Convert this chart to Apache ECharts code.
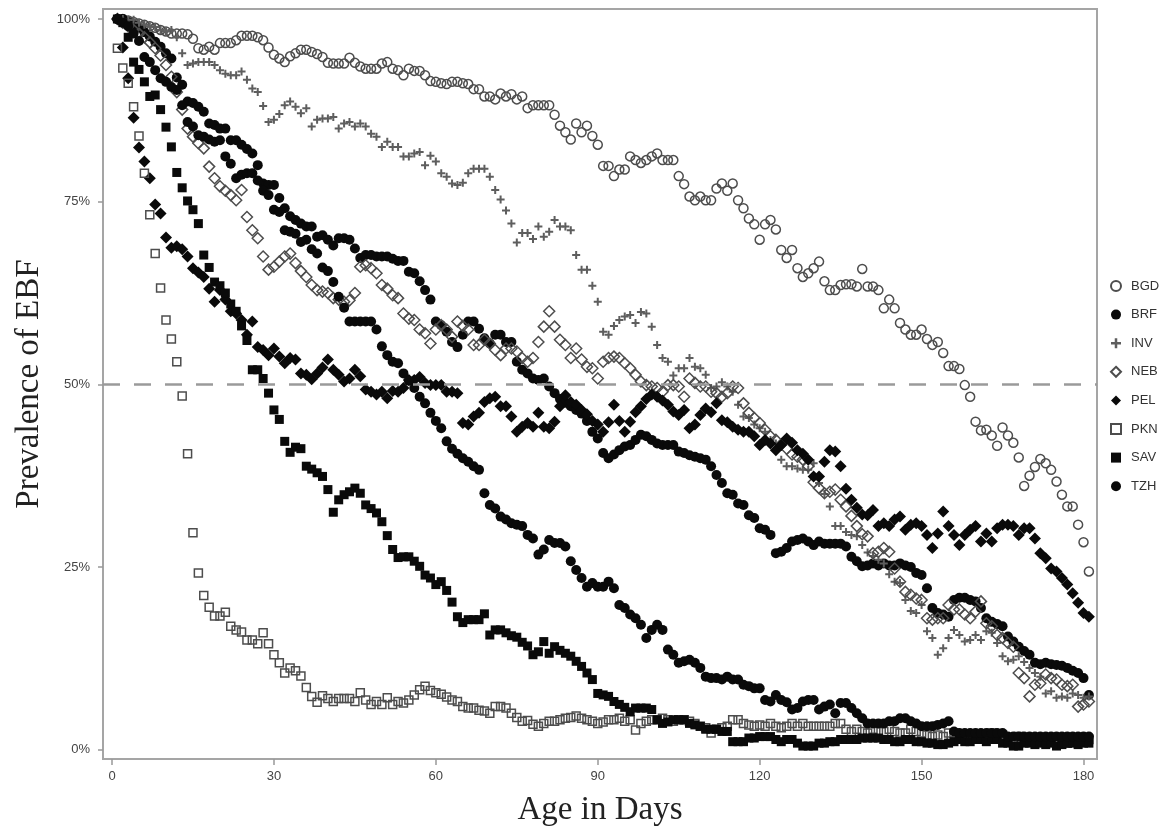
<!DOCTYPE html>
<html>
<head>
<meta charset="utf-8">
<title>Prevalence of EBF</title>
<script src="https://cdn.jsdelivr.net/npm/echarts@6/dist/echarts.min.js"></script>
<style>
html, body { margin: 0; padding: 0; background: #fff; }
#chart { width: 1170px; height: 829px; }
</style>
</head>
<body>
<div id="chart"></div>
<script>
// day of the first point in every series; one value per day after that
var firstDay = 1;
var siteNames = ['BGD', 'BRF', 'INV', 'NEB', 'PEL', 'PKN', 'SAV', 'TZH'];
var xTicks = [0, 30, 60, 90, 120, 150, 180];
var yTicks = [0, 25, 50, 75, 100];
var refLevel = 50;

var bgd = [
  100, 100, 99.8, 99.6, 99.4, 99.2, 99, 98.8, 98.5, 98.3,
  98.0, 98.0, 98.0, 97.9, 97.3, 96.0, 95.8, 96.2, 95.8, 96.7,
  96.7, 96.7, 97.1, 97.7, 97.7, 97.7, 97.5, 97.1, 96.1, 95.1,
  94.6, 94.1, 94.9, 95.3, 95.8, 95.8, 95.5, 95.2, 94.8, 94.0,
  93.9, 93.9, 93.9, 94.7, 94.0, 93.5, 93.2, 93.2, 93.2, 93.9,
  94.1, 93.2, 93.0, 92.3, 93.2, 92.9, 92.9, 92.3, 91.5, 91.4,
  91.2, 91.1, 91.4, 91.4, 91.2, 91.1, 90.4, 90.4, 89.4, 89.4,
  89.0, 89.8, 89.4, 89.7, 89.0, 89.4, 87.8, 88.2, 88.2, 88.2,
  88.2, 86.9, 85.4, 84.5, 83.5, 85.7, 84.5, 85.4, 84.0, 82.8,
  79.9, 79.9, 78.5, 79.4, 79.4, 81.2, 80.7, 80.3, 80.7, 81.2,
  81.6, 80.7, 80.7, 80.7, 78.5, 77.4, 75.7, 75.2, 75.7, 75.2,
  75.2, 76.8, 77.5, 76.5, 77.5, 75.2, 74.1, 72.7, 71.9, 69.8,
  71.9, 72.5, 71.2, 68.4, 67.3, 68.4, 65.9, 64.7, 65.2, 65.9,
  66.8, 64.1, 62.9, 62.9, 63.6, 63.7, 63.7, 63.4, 65.8, 63.4,
  63.4, 62.9, 60.4, 61.6, 60.4, 58.4, 57.5, 56.8, 56.8, 57.5,
  56.2, 55.4, 55.8, 54.3, 52.5, 52.5, 52.1, 49.9, 48.3, 44.9,
  43.7, 43.8, 43.0, 41.6, 44.1, 43.0, 42.0, 40.0, 36.1, 37.5,
  38.7, 39.8, 39.2, 38.3, 36.7, 34.9, 33.3, 33.3, 30.8, 28.4,
  24.4
];

var brf = [
  100, 100, 99.6, 99.2, 98.8, 98.2, 97.6, 96.9, 96.2, 95.3,
  94.6, 92.0, 91.0, 88.7, 88.5, 88.0, 87.3, 85.7, 85.5, 85.0,
  85.0, 83.4, 83.4, 82.8, 82.2, 81.6, 80.0, 77.5, 77.3, 77.3,
  75.5, 74.1, 73.0, 72.5, 72.0, 71.6, 71.6, 70.2, 70.4, 69.8,
  69.0, 70.0, 70.0, 69.8, 68.6, 67.3, 67.7, 67.7, 67.5, 67.5,
  67.5, 67.2, 66.9, 66.9, 65.4, 65.2, 64.1, 62.9, 61.6, 58.6,
  58.1, 57.2, 55.8, 55.1, 56.8, 58.6, 58.6, 57.6, 56.3, 55.6,
  56.8, 56.8, 55.8, 55.8, 53.1, 52.0, 51.5, 50.8, 50.6, 50.8,
  49.7, 48.8, 48.0, 47.5, 47.0, 46.5, 46.0, 45.0, 43.5, 42.6,
  40.6, 39.9, 40.4, 41.0, 41.5, 41.7, 42.4, 43.1, 42.9, 42.4,
  41.9, 41.7, 41.7, 41.7, 40.8, 40.6, 40.3, 40.1, 39.9, 39.7,
  38.8, 37.6, 36.5, 35.1, 34.9, 33.7, 33.5, 32.1, 31.7, 30.3,
  30.1, 29.4, 26.9, 27.1, 27.6, 28.5, 28.7, 28.9, 28.5, 28.0,
  28.5, 28.2, 28.2, 28.2, 28.2, 27.8, 26.4, 25.8, 25.1, 25.2,
  25.5, 25.2, 25.5, 25.2, 25.2, 25.5, 25.2, 25.0, 24.2, 23.9,
  22.1, 19.4, 18.7, 18.5, 18.2, 20.5, 20.8, 20.8, 20.5, 20.3,
  19.4, 18.0, 17.5, 17.2, 16.9, 15.5, 14.8, 14.1, 13.5, 13.0,
  11.9, 11.7, 11.9, 11.7, 11.6, 11.5, 11.2, 10.8, 10.5, 9.8,
  7.5
];

var inv = [
  100, 100, 99.9, 99.9, 99.5, 99.2, 99.0, 98.9, 98.5, 98.3,
  98.5, 97.5, 95.3, 93.7, 93.9, 94.1, 94.1, 94.1, 93.7, 93.0,
  92.5, 92.3, 92.3, 92.8, 91.7, 90.5, 90.0, 88.1, 85.9, 86.2,
  87.0, 88.2, 88.7, 88.0, 87.1, 87.8, 85.3, 86.2, 86.4, 86.4,
  86.6, 85.0, 85.7, 85.9, 85.3, 85.7, 85.3, 84.3, 83.9, 82.5,
  83.2, 82.5, 82.5, 81.2, 81.2, 81.6, 81.8, 80.0, 81.3, 80.5,
  78.9, 78.4, 77.5, 77.3, 77.6, 78.9, 79.5, 79.5, 79.5, 78.4,
  76.6, 75.3, 73.8, 72.0, 69.4, 70.7, 70.7, 69.9, 71.6, 70.2,
  70.9, 72.5, 71.6, 71.6, 71.1, 67.7, 65.7, 65.7, 63.5, 61.3,
  57.2, 56.8, 58.0, 58.8, 59.3, 59.5, 58.4, 59.9, 59.7, 57.9,
  55.4, 53.6, 53.1, 51.2, 52.2, 52.2, 53.6, 52.4, 52.2, 51.3,
  49.5, 49.7, 50.3, 49.7, 49.0, 47.2, 45.6, 45.4, 44.5, 44.0,
  43.5, 42.4, 41.9, 39.7, 38.8, 38.8, 38.5, 38.3, 38.3, 39.2,
  36.5, 35.0, 33.3, 30.6, 30.6, 29.8, 29.4, 29.2, 28.0, 27.0,
  26.5, 26.0, 25.5, 24.0, 23.0, 22.8, 20.5, 19.0, 18.7, 19.8,
  16.2, 15.3, 13.0, 13.9, 15.3, 16.4, 15.7, 14.8, 15.0, 15.7,
  15.0, 16.2, 16.0, 14.6, 12.8, 12.1, 12.3, 12.8, 12.0, 11.2,
  10.5, 10.0, 7.7, 8.0, 7.1, 7.3, 7.1, 7.7, 7.5, 7.1,
  7.3
];

var neb = [
  100, 99.5, 99.0, 98.5, 98.0, 97.5, 96.8, 96.0, 95.0, 93.7,
  92.1, 90.0, 87.6, 85.0, 83.9, 83.0, 82.3, 79.8, 78.2, 77.1,
  76.5, 75.9, 75.2, 76.6, 72.9, 71.1, 70.0, 67.5, 65.7, 66.1,
  66.8, 67.5, 67.9, 66.6, 65.5, 64.7, 63.6, 62.9, 62.7, 62.5,
  61.8, 61.6, 61.3, 61.5, 62.5, 66.1, 66.3, 65.9, 65.2, 63.6,
  63.1, 62.2, 61.8, 59.7, 59.0, 58.8, 57.5, 57.0, 55.6, 57.5,
  58.1, 57.5, 56.5, 58.6, 58.0, 57.5, 55.4, 55.4, 56.1, 55.6,
  54.7, 54.0, 54.9, 54.9, 54.5, 53.6, 53.1, 53.6, 55.8, 57.9,
  60.0, 57.9, 56.1, 55.4, 53.6, 54.9, 53.4, 52.4, 52.2, 50.8,
  53.1, 53.6, 53.8, 53.6, 52.9, 52.2, 51.3, 50.4, 49.9, 49.7,
  49.5, 49.0, 49.9, 49.9, 49.7, 48.3, 50.8, 50.2, 49.7, 49.7,
  49.0, 48.8, 48.3, 48.8, 49.7, 49.5, 47.4, 46.1, 45.4, 44.7,
  43.8, 42.9, 42.4, 41.8, 41.2, 40.4, 40.1, 39.7, 38.8, 36.6,
  35.8, 35.1, 35.3, 35.6, 34.2, 33.3, 32.0, 30.6, 29.5, 29.2,
  26.9, 27.1, 27.6, 27.1, 24.8, 23.0, 21.6, 21.2, 20.7, 20.5,
  18.0, 17.8, 18.0, 18.0, 19.8, 19.2, 19.2, 18.5, 18.0, 18.9,
  20.3, 17.3, 16.9, 15.7, 15.3, 14.6, 14.1, 10.5, 9.8, 7.3,
  8.9, 9.1, 10.3, 9.8, 9.6, 8.9, 8.7, 8.9, 5.9, 6.2,
  6.6
];

var pel = [
  100, 96.1, 91.9, 86.5, 82.4, 80.5, 78.2, 74.6, 73.4, 70.1,
  68.7, 68.9, 68.5, 67.5, 65.9, 65.3, 64.7, 63.1, 61.3, 62.9,
  61.6, 60.0, 59.7, 58.8, 56.8, 58.6, 55.1, 54.7, 54.0, 54.9,
  53.8, 52.9, 53.6, 53.4, 51.5, 51.3, 50.7, 51.5, 52.3, 53.4,
  52.0, 51.3, 50.4, 50.8, 52.0, 51.1, 49.3, 49.0, 48.6, 49.0,
  48.1, 49.1, 49.0, 49.5, 50.6, 50.6, 51.0, 50.2, 49.9, 49.9,
  49.9, 49.0, 49.0, 48.8, 44.7, 44.5, 45.6, 46.1, 47.6, 48.1,
  48.3, 47.0, 47.0, 45.6, 43.5, 44.2, 44.7, 44.2, 46.1, 44.2,
  44.0, 44.9, 47.0, 48.5, 47.6, 47.2, 46.5, 45.9, 45.0, 44.5,
  43.5, 44.8, 47.2, 45.0, 43.5, 44.9, 46.2, 47.0, 48.0, 48.6,
  48.3, 47.8, 47.2, 46.3, 45.8, 46.5, 44.0, 44.5, 45.8, 46.7,
  46.2, 47.4, 45.1, 44.8, 44.2, 43.8, 43.5, 43.5, 42.9, 41.7,
  42.4, 41.9, 41.0, 41.7, 42.6, 42.0, 41.0, 40.5, 39.7, 37.4,
  37.4, 39.4, 41.0, 40.8, 38.8, 35.7, 34.2, 33.1, 32.2, 32.1,
  32.8, 30.6, 31.0, 30.6, 31.5, 31.9, 30.1, 30.8, 31.0, 30.6,
  29.4, 27.6, 29.6, 32.6, 30.6, 29.4, 28.0, 29.4, 30.1, 30.6,
  28.5, 29.6, 28.5, 30.3, 30.8, 30.8, 30.6, 29.4, 30.3, 30.3,
  28.9, 26.9, 26.2, 24.8, 24.4, 23.5, 22.6, 21.4, 20.1, 18.7,
  18.2
];

var pkn = [
  96.0, 93.3, 91.2, 88.0, 84.0, 78.9, 73.2, 67.9, 63.2, 58.8,
  56.2, 53.1, 48.4, 40.5, 29.7, 24.2, 21.1, 19.5, 18.3, 18.3,
  18.8, 16.9, 16.4, 16.1, 15.0, 15.0, 14.5, 16.0, 14.5, 13.0,
  11.9, 10.5, 11.2, 10.8, 10.1, 8.5, 7.3, 6.5, 7.4, 7.0,
  6.6, 7.0, 7.0, 7.0, 6.6, 7.8, 6.8, 6.2, 6.6, 6.2,
  7.1, 6.2, 6.6, 6.4, 6.8, 7.5, 8.2, 8.7, 8.1, 7.8,
  7.6, 7.2, 6.8, 6.6, 5.9, 5.7, 5.7, 5.4, 5.3, 5.0,
  5.9, 5.9, 5.7, 5.0, 4.4, 3.9, 4.0, 3.5, 3.2, 3.6,
  3.9, 3.9, 4.1, 4.3, 4.4, 4.6, 4.3, 4.1, 3.9, 3.6,
  3.8, 4.1, 4.1, 4.3, 3.9, 4.1, 2.7, 3.6, 3.9, 4.1,
  4.1, 4.3, 4.1, 3.9, 4.1, 4.1, 3.9, 3.6, 3.2, 3.0,
  2.3, 2.8, 3.0, 3.2, 4.1, 4.1, 3.6, 3.4, 3.2, 3.4,
  3.2, 3.6, 3.2, 3.0, 3.2, 3.6, 3.2, 3.6, 3.2, 3.2,
  3.2, 3.2, 3.2, 3.6, 3.6, 2.8, 2.5, 2.8, 2.5, 2.3,
  2.8, 2.5, 2.5, 2.8, 2.5, 2.3, 2.3, 2.8, 2.5, 2.3,
  2.0, 1.8, 2.0, 1.8, 2.3, 2.3, 1.6, 2.0, 1.8, 1.8,
  1.8, 1.6, 2.3, 1.8, 2.0, 1.6, 1.4, 1.8, 1.6, 1.4,
  1.1, 1.6, 1.4, 1.1, 1.1, 1.4, 0.9, 1.1, 1.4, 1.1,
  1.4
];

var sav = [
  100, 99.5, 97.5, 94.1, 93.1, 91.4, 89.4, 89.6, 87.6, 85.2,
  82.5, 79.0, 76.9, 75.1, 73.9, 72.0, 67.7, 66.0, 64.0, 63.5,
  62.5, 61.0, 60.0, 58.0, 56.0, 52.0, 52.0, 50.8, 48.8, 46.5,
  45.2, 42.2, 40.7, 41.4, 41.2, 38.8, 38.4, 37.9, 37.4, 35.6,
  32.5, 34.2, 34.9, 35.3, 35.8, 35.1, 33.5, 33.0, 32.4, 31.2,
  29.3, 27.4, 26.3, 26.4, 26.4, 25.8, 25.1, 23.9, 23.5, 22.6,
  23.0, 21.8, 20.2, 18.2, 17.4, 17.8, 17.8, 17.8, 18.6, 15.7,
  16.4, 16.4, 16.0, 15.6, 15.4, 14.7, 14.2, 13.0, 13.4, 14.8,
  13.2, 14.1, 13.6, 13.2, 12.8, 12.1, 11.4, 10.5, 9.6, 7.7,
  7.5, 7.3, 6.6, 6.2, 5.8, 5.2, 5.7, 5.7, 5.7, 5.5,
  4.1, 3.6, 3.8, 4.1, 4.1, 4.1, 3.6, 3.4, 3.2, 2.8,
  2.8, 2.8, 2.5, 2.5, 1.1, 1.1, 1.1, 1.6, 1.6, 1.8,
  1.8, 1.8, 1.4, 1.1, 1.4, 1.4, 0.9, 0.5, 0.5, 0.5,
  0.9, 0.9, 1.1, 1.1, 1.4, 1.4, 1.4, 1.4, 1.6, 1.6,
  1.6, 1.6, 1.4, 1.4, 1.1, 1.1, 1.4, 1.4, 1.1, 1.1,
  0.9, 0.9, 0.7, 0.7, 0.9, 1.1, 1.4, 1.1, 1.1, 1.4,
  1.4, 1.1, 1.4, 1.4, 0.9, 0.9, 0.5, 0.5, 0.9, 0.9,
  0.7, 0.9, 0.7, 0.9, 0.5, 0.7, 0.9, 0.9, 0.7, 0.9,
  0.9
];

var tzh = [
  100, 99.5, 99.0, 98.0, 97.0, 94.8, 94.1, 93.0, 91.9, 91.4,
  90.7, 90.3, 88.2, 85.9, 85.3, 84.1, 83.9, 83.5, 83.2, 83.4,
  81.2, 80.2, 78.2, 78.7, 78.9, 78.9, 77.9, 76.5, 75.9, 73.9,
  73.6, 71.1, 70.9, 70.6, 69.5, 69.8, 68.5, 67.9, 66.0, 65.5,
  64.0, 62.0, 60.5, 58.6, 58.6, 58.6, 58.6, 58.6, 57.5, 55.2,
  54.0, 53.1, 52.9, 51.5, 50.5, 49.5, 48.3, 47.4, 46.1, 45.0,
  44.0, 42.2, 41.2, 40.5, 39.9, 39.4, 38.8, 38.3, 35.1, 33.5,
  33.0, 31.9, 31.5, 31.0, 30.8, 30.6, 29.4, 28.9, 26.7, 27.4,
  28.7, 28.3, 28.3, 27.8, 25.8, 24.6, 23.5, 22.3, 22.8, 22.3,
  22.3, 23.0, 22.1, 19.8, 19.4, 18.5, 18.0, 17.1, 15.3, 16.4,
  17.1, 16.4, 13.7, 13.0, 11.9, 12.1, 12.3, 11.9, 11.2, 10.0,
  9.8, 9.8, 9.6, 10.0, 9.6, 9.6, 8.9, 8.7, 8.4, 8.4,
  6.8, 6.6, 7.5, 6.8, 6.5, 5.5, 5.7, 6.6, 6.8, 6.8,
  5.5, 5.9, 6.2, 5.0, 6.4, 6.4, 5.7, 5.0, 4.3, 3.6,
  3.6, 3.6, 3.6, 3.9, 3.9, 4.3, 4.3, 3.9, 3.6, 3.2,
  3.2, 3.2, 3.4, 3.6, 3.9, 2.5, 2.3, 2.3, 2.3, 2.3,
  2.3, 2.3, 2.3, 2.3, 2.3, 1.8, 1.8, 1.8, 1.8, 1.8,
  1.8, 1.8, 1.8, 1.8, 1.8, 1.8, 1.8, 1.8, 1.8, 1.8,
  1.8
];

function toPoints(values) {
  return values.map(function (v, i) { return [firstDay + i, v]; });
}

var ink = '#0a0a0a';
var grey = '#4d4d4d';
var frameColor = '#a5a5a5';
var plusPath = 'path://M3,0H5V3H8V5H5V8H3V5H0V3H3Z';

function openStyle() {
  return { color: 'rgba(255,255,255,0)', borderColor: grey, borderWidth: 1.5, opacity: 1 };
}
function solidStyle() {
  return { color: ink, opacity: 1 };
}

var chart = echarts.init(document.getElementById('chart'));

var option = {
  animation: false,
  backgroundColor: '#ffffff',
  grid: {
    left: 103, right: 73, top: 9, bottom: 70,
    show: true, borderColor: frameColor, borderWidth: 2,
    outerBoundsMode: 'none'
  },
  legend: {
    data: siteNames,
    orient: 'vertical',
    left: 1105, top: 273,
    itemWidth: 10, itemHeight: 10, itemGap: 12.6,
    symbolKeepAspect: true,
    selectedMode: false,
    textStyle: {
      fontFamily: 'Liberation Sans, Arial', fontSize: 13, color: '#333',
      lineHeight: 16, padding: [0, 0, 0, 5]
    }
  },
  xAxis: {
    type: 'value',
    min: -1.67, max: 182.5,
    axisLine: { show: true, onZero: false, lineStyle: { color: frameColor, width: 2 } },
    splitLine: { show: false },
    axisTick: { show: true, inside: false, customValues: xTicks, length: 6, lineStyle: { color: '#999', width: 1.5 } },
    axisLabel: { customValues: xTicks, fontFamily: 'Liberation Sans, Arial', fontSize: 13, color: '#444', margin: 11 },
    name: 'Age in Days',
    nameLocation: 'middle',
    nameGap: 35,
    nameTextStyle: { fontFamily: 'Liberation Serif, Times New Roman', fontSize: 33, color: '#222' }
  },
  yAxis: {
    type: 'value',
    min: -1.27, max: 101.37,
    axisLine: { show: true, onZero: false, lineStyle: { color: frameColor, width: 2 } },
    splitLine: { show: false },
    axisTick: { show: true, inside: false, customValues: yTicks, length: 5, lineStyle: { color: '#999', width: 1.5 } },
    axisLabel: {
      customValues: yTicks,
      formatter: function (v) { return v + '%'; },
      fontFamily: 'Liberation Sans, Arial', fontSize: 13, color: '#444', margin: 13
    },
    name: 'Prevalence of EBF',
    nameLocation: 'middle',
    nameRotate: 90,
    nameGap: 57,
    nameTextStyle: { fontFamily: 'Liberation Serif, Times New Roman', fontSize: 33, color: '#222' }
  },
  series: [
    {
      // dashed 50% reference line, kept under the markers
      type: 'line', data: [], z: 1, silent: true,
      markLine: {
        silent: true, symbol: 'none', label: { show: false },
        lineStyle: { color: '#9a9a9a', width: 2.5, type: [17, 14] },
        data: [{ yAxis: refLevel }]
      }
    },
    { name: 'BGD', type: 'scatter', data: toPoints(bgd), symbol: 'circle', symbolSize: 9, itemStyle: openStyle() },
    { name: 'BRF', type: 'scatter', data: toPoints(brf), symbol: 'circle', symbolSize: 10, itemStyle: solidStyle() },
    { name: 'INV', type: 'scatter', data: toPoints(inv), symbol: plusPath, symbolSize: 8, itemStyle: { color: '#5e5e5e', opacity: 1 } },
    { name: 'NEB', type: 'scatter', data: toPoints(neb), symbol: 'diamond', symbolSize: 11, itemStyle: openStyle() },
    { name: 'PEL', type: 'scatter', data: toPoints(pel), symbol: 'diamond', symbolSize: 12, itemStyle: solidStyle() },
    { name: 'PKN', type: 'scatter', data: toPoints(pkn), symbol: 'rect', symbolSize: 8, itemStyle: openStyle() },
    { name: 'SAV', type: 'scatter', data: toPoints(sav), symbol: 'rect', symbolSize: 9, itemStyle: solidStyle() },
    { name: 'TZH', type: 'scatter', data: toPoints(tzh), symbol: 'circle', symbolSize: 10, itemStyle: solidStyle() }
  ]
};

chart.setOption(option);
</script>
</body>
</html>
